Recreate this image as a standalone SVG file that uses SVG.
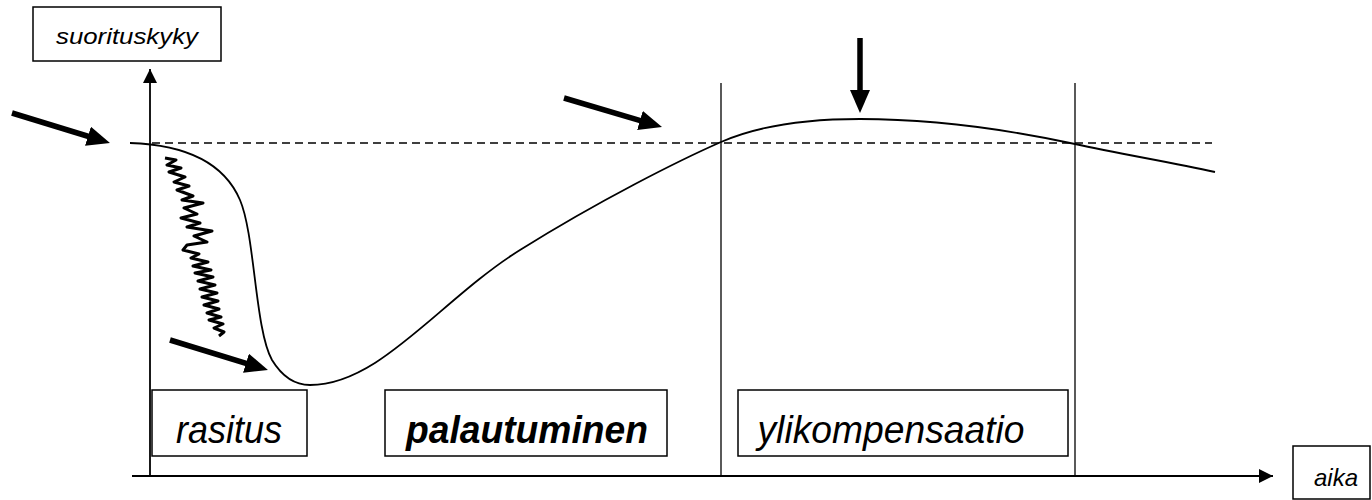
<svg xmlns="http://www.w3.org/2000/svg" width="1372" height="500" viewBox="0 0 1372 500">
<style>
.box{fill:#fff;stroke:#000;stroke-width:1.5}
.lbl{font-family:"Liberation Sans",Arial,sans-serif;font-style:italic;fill:#000;text-anchor:middle}
.axis{stroke:#000;stroke-width:1.8;fill:none}
.vline{stroke:#000;stroke-width:1.3;fill:none}
.fat{stroke:#000;stroke-width:5.5;fill:none}
.curve{stroke:#000;stroke-width:1.8;fill:none}
</style>
<defs>
<marker id="ah" markerUnits="userSpaceOnUse" markerWidth="16" markerHeight="14" refX="14" refY="7" orient="auto"><path d="M0,0 L14,7 L0,14 Z" fill="#000"/></marker>
<marker id="fh" markerUnits="userSpaceOnUse" markerWidth="25" markerHeight="20" refX="11" refY="10" orient="auto"><path d="M0,0 L23,10 L0,20 Z" fill="#000"/></marker>
</defs>
<rect width="1372" height="500" fill="#fff"/>
<g id="connectors">
<line class="axis" x1="150" y1="477" x2="150" y2="69" marker-end="url(#ah)"/>
<line class="axis" x1="132" y1="476" x2="1273" y2="476" marker-end="url(#ah)"/>
<line class="vline" x1="721" y1="83" x2="721" y2="476"/>
<line class="vline" x1="1075" y1="83" x2="1075" y2="476"/>
<line x1="152" y1="143" x2="1212" y2="143" stroke="#000" stroke-width="1.5" stroke-dasharray="8,5"/>
<path class="curve" d="M130,143 C190,145 225,165 240,200 C255,235 255,330 272,360 C283,378 295,385 310,385 C380,385 440,300 520,250 C600,200 680,160 721,142 C762,124 810,119 860,119 C940,119 1010,130 1075,144 C1120,154 1170,162 1215,172"/>
<polyline fill="none" stroke="#000" stroke-width="3" stroke-linejoin="round" points="165,158 176,160 167,165 181,168 169,172 185,177 174,182 189,186 177,190 193,196 182,200 203,203 184,208 197,214 181,218 200,223 187,227 212,231 194,236 207,242 187,245 183,250 199,254 191,258 208,262 193,266 211,270 195,273 213,277 198,281 215,285 200,289 217,293 202,297 218,301 204,305 219,309 207,313 221,317 209,320 223,324 214,328 224,332 219,336"/>
<line class="fat" x1="12" y1="113" x2="98.5" y2="139.5" marker-end="url(#fh)"/>
<line class="fat" x1="564" y1="98" x2="650.5" y2="123.6" marker-end="url(#fh)"/>
<line class="fat" x1="170" y1="340" x2="256.5" y2="366.5" marker-end="url(#fh)"/>
<line class="fat" x1="860" y1="38" x2="860" y2="101" marker-end="url(#fh)"/>
</g>
<g id="node-suorituskyky">
<rect class="box" x="33" y="7" width="188" height="54"/>
<text class="lbl" x="127" y="44" font-size="22" textLength="142" lengthAdjust="spacingAndGlyphs">suorituskyky</text>
</g>
<g id="node-rasitus">
<rect class="box" x="152" y="390" width="155" height="66"/>
<text class="lbl" x="229" y="443" font-size="38" textLength="106" lengthAdjust="spacingAndGlyphs">rasitus</text>
</g>
<g id="node-palautuminen">
<rect class="box" x="385" y="390" width="282" height="66"/>
<text class="lbl" x="527" y="443" font-size="38" font-weight="bold" textLength="242" lengthAdjust="spacingAndGlyphs">palautuminen</text>
</g>
<g id="node-ylikompensaatio">
<rect class="box" x="738" y="390" width="330" height="66"/>
<text class="lbl" x="891" y="443" font-size="38" textLength="267" lengthAdjust="spacingAndGlyphs">ylikompensaatio</text>
</g>
<g id="node-aika">
<rect class="box" x="1293" y="446" width="77" height="53"/>
<text class="lbl" x="1336" y="486" font-size="24">aika</text>
</g>
</svg>
